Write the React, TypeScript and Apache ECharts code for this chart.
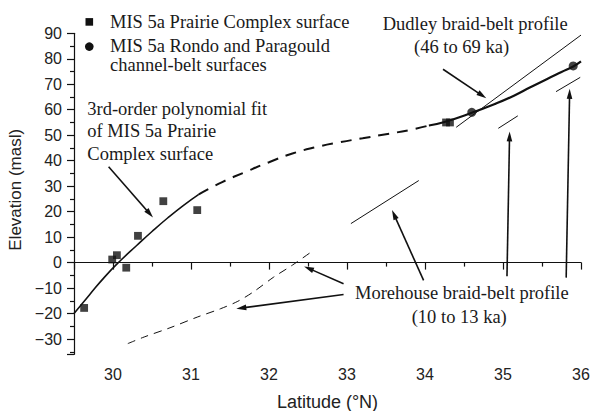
import React, { useEffect, useRef } from "react";
import * as echarts from "echarts";

// MIS 5a Prairie Complex surface points [latitude °N, elevation masl]
const prairiePoints: number[][] = [
  [29.63, -17.8], [29.99, 1.2], [30.05, 2.9], [30.17, -2.0], [30.32, 10.5],
  [30.645, 24.1], [31.08, 20.6], [34.27, 55.0], [34.32, 55.0],
];
// MIS 5a Rondo and Paragould channel-belt surfaces
const rondoPoints: number[][] = [[34.6, 59.0], [35.9, 77.2]];

// 3rd-order polynomial fit (solid / dashed / solid)
const fitSouth: number[][] = [
  [29.5, -20.0], [29.7, -12.6], [29.9, -5.4], [30.1, 0.9], [30.3, 6.6],
  [30.5, 12.2], [30.7, 17.5], [30.9, 22.4], [31.1, 26.8],
];
const fitMiddle: number[][] = [
  [31.1, 26.8], [31.4, 31.6], [31.7, 35.6], [32.0, 39.4], [32.3, 42.8],
  [32.6, 45.3], [32.9, 47.2], [33.2, 48.8], [33.5, 50.4], [33.8, 52.0], [34.05, 53.8],
];
const fitNorth: number[][] = [
  [34.05, 53.8], [34.25, 55.2], [34.6, 58.8], [34.9, 62.3], [35.14, 65.5],
  [35.35, 68.8], [35.56, 72.0], [35.75, 74.8], [35.9, 77.0], [36.0, 79.0],
];

// Dudley braid-belt profile
const dudleyProfile: number[][] = [[34.4, 53.1], [36.0, 89.3]];

// Morehouse braid-belt profile segments
const morehouseA: number[][] = [[33.05, 15.3], [33.92, 32.2]];
const morehouseB: number[][] = [[34.94, 52.7], [35.19, 57.6]];
const morehouseC: number[][] = [[35.68, 67.1], [35.99, 72.7]];
const morehouseDashed: number[][] = [
  [30.19, -31.8], [30.4, -29.2], [30.73, -25.6], [31.08, -21.4], [31.38, -18.1],
  [31.6, -15.2], [31.8, -11.5], [32.06, -5.7], [32.3, -1.0], [32.57, 4.8],
];

// Annotation arrows: [fromLat, fromElev, toLat, toElev]
const arrows: number[][] = [
  [29.944, 37.6, 30.513, 17.7],
  [34.231, 75.9, 34.786, 64.5],
  [32.956, -8.3, 32.45, -1.5],
  [32.956, -12.5, 31.581, -18.1],
  [33.982, -7.0, 33.577, 20.6],
  [35.051, -5.4, 35.085, 51.5],
  [35.81, -5.9, 35.855, 68.2],
];

const SERIF = "'Liberation Serif', 'Times New Roman', serif";
const SANS = "'Liberation Sans', Arial, sans-serif";
const INK = "#111";

export default function App() {
  const ref = useRef<HTMLDivElement>(null);
  useEffect(() => {
    if (!ref.current) return;
    const chart = echarts.init(ref.current, undefined, { renderer: "svg" });

    const serifText = (text: string, x: number, y: number) => ({
      type: "text",
      x,
      y,
      silent: true,
      style: {
        text,
        fill: "#1a1a1a",
        fontSize: 18.5,
        fontFamily: SERIF,
        align: "left",
        verticalAlign: "middle",
      },
    });

    const thinLine = (name: string, data: number[][]) => ({
      type: "line",
      name,
      data,
      symbol: "none",
      showSymbol: false,
      lineStyle: { color: INK, width: 1 },
      z: 3,
      silent: true,
    });

    const option: any = {
      animation: false,
      backgroundColor: "#fff",
      grid: {
        left: 74,
        right: 9,
        top: 33.3,
        bottom: 56.7,
        containLabel: false,
        outerBoundsMode: "none",
      },
      xAxis: {
        type: "value",
        min: 29.5,
        max: 36,
        splitNumber: 7,
        name: "Latitude (°N)",
        nameLocation: "middle",
        nameGap: 39,
        nameTextStyle: { fontFamily: SANS, fontSize: 18, color: "#222" },
        axisLine: { show: true, lineStyle: { color: INK, width: 1.2 } },
        axisTick: { show: true, length: 7, lineStyle: { color: INK, width: 1.2 } },
        minorTick: { show: true, splitNumber: 2, length: 4, lineStyle: { color: INK, width: 1.2 } },
        splitLine: { show: false },
        axisLabel: {
          showMinLabel: false,
          margin: 12,
          fontFamily: SANS,
          fontSize: 16,
          color: "#222",
        },
      },
      yAxis: {
        type: "value",
        min: -36,
        max: 90,
        splitNumber: 12,
        name: "Elevation (masl)",
        nameLocation: "middle",
        nameGap: 40,
        nameTextStyle: { fontFamily: SANS, fontSize: 17, color: "#222", padding: [0, 0, 0, 8] },
        axisLine: { show: true, lineStyle: { color: INK, width: 1.2 } },
        axisTick: { show: true, length: 7, lineStyle: { color: INK, width: 1.2 } },
        minorTick: { show: true, splitNumber: 2, length: 4, lineStyle: { color: INK, width: 1.2 } },
        splitLine: { show: false },
        axisLabel: {
          showMinLabel: false,
          margin: 12,
          fontFamily: SANS,
          fontSize: 16,
          color: "#222",
          formatter: (v: number) => String(v).replace("-", "\u2212"),
        },
      },
      series: [
        {
          type: "line",
          name: "Polynomial fit (solid, south)",
          data: fitSouth,
          smooth: true,
          symbol: "none",
          showSymbol: false,
          lineStyle: { color: INK, width: 1.6 },
          z: 3,
          silent: true,
        },
        {
          type: "line",
          name: "Polynomial fit (dashed)",
          data: fitMiddle,
          smooth: true,
          symbol: "none",
          showSymbol: false,
          lineStyle: { color: INK, width: 2, type: [11, 8] },
          z: 3,
          silent: true,
        },
        {
          type: "line",
          name: "Polynomial fit (solid, north)",
          data: fitNorth,
          smooth: true,
          symbol: "none",
          showSymbol: false,
          lineStyle: { color: INK, width: 2.2 },
          z: 3,
          silent: true,
        },
        thinLine("Dudley braid-belt profile", dudleyProfile),
        thinLine("Morehouse A", morehouseA),
        thinLine("Morehouse B", morehouseB),
        thinLine("Morehouse C", morehouseC),
        {
          type: "line",
          name: "Morehouse dashed",
          data: morehouseDashed,
          smooth: 0.3,
          symbol: "none",
          showSymbol: false,
          lineStyle: { color: INK, width: 1, type: [8, 6] },
          z: 3,
          silent: true,
        },
        {
          type: "custom",
          name: "arrows",
          data: arrows,
          encode: { x: [0, 2], y: [1, 3] },
          clip: false,
          silent: true,
          z: 4,
          renderItem: (_params: any, api: any) => {
            const p1 = api.coord([api.value(0), api.value(1)]);
            const p2 = api.coord([api.value(2), api.value(3)]);
            const dx = p2[0] - p1[0];
            const dy = p2[1] - p1[1];
            const len = Math.hypot(dx, dy) || 1;
            const ux = dx / len;
            const uy = dy / len;
            const headLen = 10;
            const headW = 2.8;
            const bx = p2[0] - ux * headLen;
            const by = p2[1] - uy * headLen;
            return {
              type: "group",
              children: [
                {
                  type: "line",
                  shape: { x1: p1[0], y1: p1[1], x2: bx + ux * 2, y2: by + uy * 2 },
                  style: { stroke: INK, lineWidth: 1.6 },
                },
                {
                  type: "polygon",
                  shape: {
                    points: [
                      [p2[0], p2[1]],
                      [bx - uy * headW, by + ux * headW],
                      [bx + uy * headW, by - ux * headW],
                    ],
                  },
                  style: { fill: INK },
                },
              ],
            };
          },
        },
        {
          type: "scatter",
          name: "MIS 5a Prairie Complex surface",
          data: prairiePoints,
          symbol: "rect",
          symbolSize: 7.8,
          itemStyle: { color: INK },
          z: 5,
        },
        {
          type: "scatter",
          name: "MIS 5a Rondo and Paragould channel-belt surfaces",
          data: rondoPoints,
          symbol: "circle",
          symbolSize: 9,
          itemStyle: { color: INK },
          z: 5,
        },
      ],
      graphic: [
        { type: "rect", shape: { x: 85.5, y: 18.1, width: 7.6, height: 7.6 }, style: { fill: INK }, silent: true },
        { type: "circle", shape: { cx: 89.3, cy: 46.6, r: 4.3 }, style: { fill: INK }, silent: true },
        serifText("MIS 5a Prairie Complex surface", 110, 21.7),
        serifText("MIS 5a Rondo and Paragould", 110, 45.8),
        serifText("channel-belt surfaces", 110, 65.4),
        serifText("3rd-order polynomial fit", 87.3, 108.8),
        serifText("of MIS 5a Prairie", 87.3, 131.3),
        serifText("Complex surface", 87.3, 153.5),
        serifText("Dudley braid-belt profile", 382.7, 24.0),
        serifText("(46 to 69 ka)", 414, 46.5),
        serifText("Morehouse braid-belt profile", 355, 292.5),
        serifText("(10 to 13 ka)", 411.7, 316.6),
      ],
    };

    chart.setOption(option);
    return () => chart.dispose();
  }, []);

  return (
    <div
      ref={ref}
      style={{ position: "fixed", left: 0, top: 0, width: 590, height: 411, background: "#fff" }}
    />
  );
}
